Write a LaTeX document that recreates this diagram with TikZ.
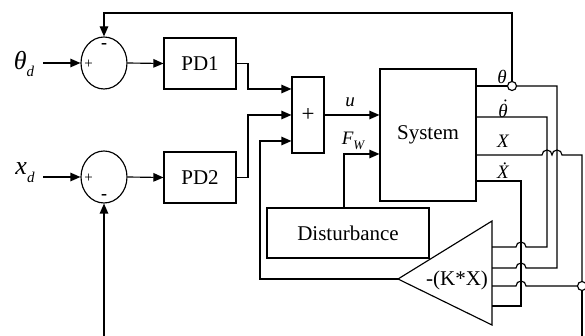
\documentclass[tikz,border=0pt]{standalone}
\usepackage{fontspec}
\setmainfont{Liberation Serif}
\usetikzlibrary{arrows.meta,shapes.geometric,calc}
\begin{document}
\begin{tikzpicture}[x=1pt,y=-1pt,line width=1.15pt,
  blk/.style={draw,rectangle,inner sep=0pt,font=\fontsize{21}{23}\selectfont},
  sumnode/.style={draw,ellipse,minimum width=46pt,minimum height=52pt,inner sep=0pt},
  arr/.style={-{Triangle[length=10pt,width=8.5pt]}},
  lbl/.style={font=\fontsize{19}{21}\selectfont\itshape,inner sep=0pt},
  big/.style={font=\fontsize{26}{28}\selectfont\itshape,inner sep=0pt},
  sgn/.style={font=\fontsize{15}{15}\selectfont,inner sep=0pt},
  msgn/.style={font=\fontsize{18}{18}\selectfont\bfseries,inner sep=0pt},
  junc/.style={draw,circle,fill=white,minimum size=9pt,inner sep=0pt},
]
\useasboundingbox (0,0) rectangle (585,336);
% blocks
\node[sumnode] (s1) at (104,63) {};
\node[sumnode] (s2) at (104,177) {};
\node[blk,minimum width=72pt,minimum height=51pt] (pd1) at (200,63.5) {PD1};
\node[blk,minimum width=72pt,minimum height=51pt] (pd2) at (200,177.5) {PD2};
\node[blk,minimum width=32pt,minimum height=76pt,font=\fontsize{23}{23}\selectfont] (add) at (308,115) {+};
\node[blk,minimum width=96pt,minimum height=132pt] (sys) at (428,135) {System};
\node[blk,minimum width=162pt,minimum height=50pt] (dist) at (348,233) {Disturbance};
% gain triangle
\coordinate (tt) at (398,279);
\coordinate (tu) at (492,221);
\coordinate (tb) at (492,325);
\draw (tt) -- (tu) -- (tb) -- cycle;
\node[font=\fontsize{21}{23}\selectfont,inner sep=0pt] (kx) at (457,280) {-(K*X)};
% signs
\node[sgn] (p1) at (88.5,64) {+};
\node[msgn] (m1) at (104,46) {-};
\node[sgn] (p2) at (88.5,178) {+};
\node[msgn] (m2) at (104,197) {-};
% inputs
\node[big] (thd) at (24,64) {θ\raisebox{-0.3em}{\fontsize{15}{15}\selectfont d}};
\node[big] (xd) at (25,173) {x\raisebox{-0.3em}{\fontsize{15}{15}\selectfont d}};
\coordinate (thds) at (43,63);
\coordinate (xds) at (43,177);
\draw[arr] (thds) -- (s1.west);
\draw[arr] (xds) -- (s2.west);
\draw[arr] (s1.east) -- (pd1.west);
\draw[arr] (s2.east) -- (pd2.west);
% to adder
\draw[arr] (pd1.east) -- (248,63.5) |- (add.west |- 0,89);
\draw[arr] (pd2.east) -- (248,177.5) |- (add.west |- 0,115);
\draw[arr] (tt) -- (260,279) |- (add.west |- 0,141);
% adder to system
\draw[arr] (add.east) -- (sys.west |- add.east);
\node[lbl] (ul) at (350,102) {u};
\draw[arr] ($(dist.north)+(-4,0)$) |- (sys.west |- 0,154);
\node[lbl] (fw) at (353,141) {F\raisebox{-0.3em}{\fontsize{13}{13}\selectfont W}};
% junctions
\node[junc] (j1) at (512,86) {};
\node[junc] (j2) at (582,286) {};
% outputs
\draw (sys.east |- 0,86) -- (j1.west);
\draw (j1.east) -- (557,86) -- (557,268) -- (526,268) arc[start angle=0,end angle=180,radius=5pt] -- (tu |- 0,268);
\draw (sys.east |- 0,117) -- (547,117) -- (547,247) -- (526,247) arc[start angle=0,end angle=180,radius=5pt] -- (tu |- 0,247);
\draw (sys.east |- 0,155) -- (542,155) arc[start angle=180,end angle=0,radius=5pt] -- (552,155) arc[start angle=180,end angle=0,radius=5pt] -- (582,155) -- (j2.north);
\draw (j2.south) -- (582,336);
\draw (j2.west) -- (526,286) arc[start angle=0,end angle=180,radius=5pt] -- (tu |- 0,286);
\draw (sys.east |- 0,181) -- (521,181) -- (521,306) -- (tu |- 0,306);
% output labels
\node[lbl] (lth) at (502,77) {θ};
\node[lbl] (lthd) at (503,109) {\accent"02D9 θ};
\node[lbl] (lx) at (503,141) {X};
\node[lbl] (lxd) at (503,171) {X^^^^0307};
% feedback
\draw[arr] (j1.north) -- (512,13) -- (104,13) -- (s1.north);
\coordinate (fbx) at (104,336);
\draw[arr] (fbx) -- (s2.south);
\end{tikzpicture}
\end{document}
